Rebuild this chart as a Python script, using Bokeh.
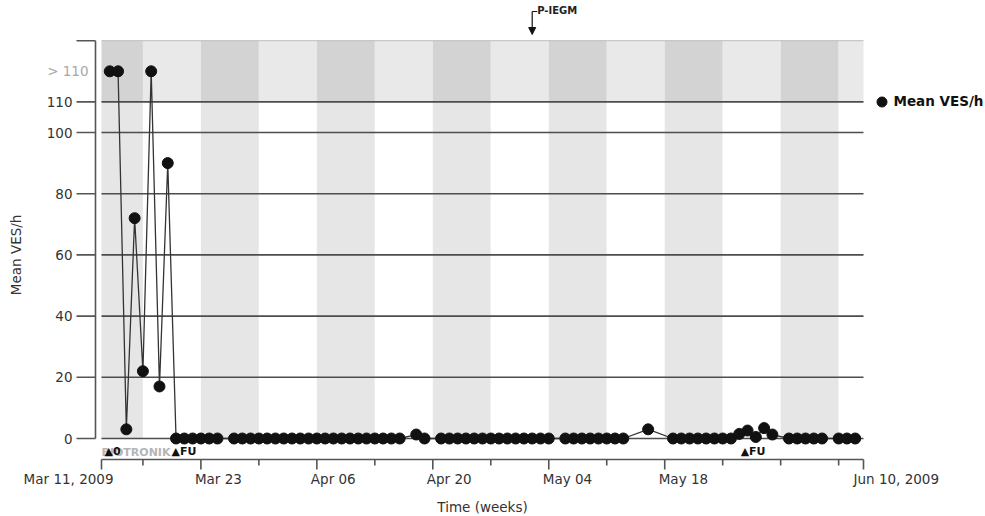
import pandas as pd
from math import pi
from bokeh.plotting import figure
from bokeh.models import (Range1d, Legend, LegendItem, ColumnDataSource, Arrow, NormalHead)
from bokeh.core.properties import value
from bokeh.embed import file_html
from bokeh.resources import INLINE

# ---------------- data ----------------
dates = [
    "2009-03-12", "2009-03-13", "2009-03-14", "2009-03-15", "2009-03-16", "2009-03-17", "2009-03-18", "2009-03-19",
    "2009-03-20", "2009-03-21", "2009-03-22", "2009-03-23", "2009-03-24", "2009-03-25",
    "2009-03-27", "2009-03-28", "2009-03-29", "2009-03-30", "2009-03-31", "2009-04-01", "2009-04-02",
    "2009-04-03", "2009-04-04", "2009-04-05", "2009-04-06", "2009-04-07", "2009-04-08", "2009-04-09",
    "2009-04-10", "2009-04-11", "2009-04-12", "2009-04-13", "2009-04-14", "2009-04-15", "2009-04-16",
    "2009-04-18", "2009-04-19",
    "2009-04-21", "2009-04-22", "2009-04-23", "2009-04-24", "2009-04-25", "2009-04-26", "2009-04-27",
    "2009-04-28", "2009-04-29", "2009-04-30", "2009-05-01", "2009-05-02", "2009-05-03", "2009-05-04",
    "2009-05-06", "2009-05-07", "2009-05-08", "2009-05-09", "2009-05-10", "2009-05-11", "2009-05-12", "2009-05-13",
    "2009-05-16",
    "2009-05-19", "2009-05-20", "2009-05-21", "2009-05-22", "2009-05-23", "2009-05-24", "2009-05-25", "2009-05-26",
    "2009-05-27", "2009-05-28", "2009-05-29", "2009-05-30", "2009-05-31",
    "2009-06-02", "2009-06-03", "2009-06-04", "2009-06-05", "2009-06-06",
    "2009-06-08", "2009-06-09", "2009-06-10",
]
# values above 110 are drawn in the "> 110" band (plotted at 120)
mean_ves = [
    120, 120, 3, 72, 22, 120, 17, 90,
    0, 0, 0, 0, 0, 0,
    0, 0, 0, 0, 0, 0, 0,
    0, 0, 0, 0, 0, 0, 0,
    0, 0, 0, 0, 0, 0, 0,
    1.3, 0,
    0, 0, 0, 0, 0, 0, 0,
    0, 0, 0, 0, 0, 0, 0,
    0, 0, 0, 0, 0, 0, 0, 0,
    3,
    0, 0, 0, 0, 0, 0, 0, 0,
    1.5, 2.6, 0.5, 3.4, 1.3,
    0, 0, 0, 0, 0,
    0, 0, 0,
]

week_starts = ["2009-03-11", "2009-03-16", "2009-03-23", "2009-03-30", "2009-04-06", "2009-04-13",
               "2009-04-20", "2009-04-27", "2009-05-04", "2009-05-11", "2009-05-18", "2009-05-25",
               "2009-06-01", "2009-06-08", "2009-06-11"]
week_shaded = [True, False, True, False, True, False, True, False, True, False, True, False, True, False]

grid_levels = [0, 20, 40, 60, 80, 100, 110]
y_tick_levels = [0, 20, 40, 60, 80, 100, 110, 130]
y_tick_labels = ["0", "20", "40", "60", "80", "100", "110", ""]
capped_level = 120
capped_label = "> 110"
band_top = 130

x_tick_dates = ["2009-03-11", "2009-03-23", "2009-04-06", "2009-04-20", "2009-05-04", "2009-05-18", "2009-06-11"]
x_tick_labels = ["Mar 11, 2009", "Mar 23", "Apr 06", "Apr 20", "May 04", "May 18", "Jun 10, 2009"]
x_minor_dates = ["2009-03-16", "2009-03-30", "2009-04-13", "2009-04-27", "2009-05-11", "2009-05-25",
                 "2009-06-01", "2009-06-08"]
x_title = "Time (weeks)"
x_title_date = "2009-04-26"

event_dates = ["2009-03-11 09:00", "2009-03-19 11:00", "2009-05-27 04:00"]
event_labels = ["\u25B20", "\u25B2FU", "\u25B2FU"]
watermark = "BIOTRONIK"
piegm_date = "2009-05-02"
piegm_label = "P-IEGM"
series_name = "Mean VES/h"


def ms(s):
    return pd.Timestamp(s).value / 1e6


# ---------------- scales ----------------
W, H = 983, 514
DAY = 86400000.0
px_per_day = 762.0 / 92.0          # Mar 11 -> Jun 11 spans 762 px
MSPX = DAY / px_per_day            # ms per pixel
UPX = 1 / 3.06                     # value units per pixel
X0 = ms(x_tick_dates[0])           # axis origin (left end of the x axis)
ORIGIN_PX_X, ORIGIN_PX_Y = 101, 438

x_lo = X0 - ORIGIN_PX_X * MSPX
x_hi = x_lo + W * MSPX
y_hi = ORIGIN_PX_Y * UPX
y_lo = -(H - ORIGIN_PX_Y) * UPX

FONT = "DejaVu Sans"
AX = "#555555"
TXT = "#333333"

p = figure(width=W, height=H, x_range=Range1d(x_lo, x_hi), y_range=Range1d(y_lo, y_hi),
           x_axis_location=None, y_axis_location=None,
           output_backend="svg", toolbar_location=None, title=None,
           min_border_left=0, min_border_right=0, min_border_top=0, min_border_bottom=0)
p.outline_line_color = None
p.xgrid.visible = False
p.ygrid.visible = False
p.background_fill_color = "white"
p.border_fill_color = "white"

# weekly bands
lefts = [ms(d) for d in week_starts[:-1]]
rights = [ms(d) for d in week_starts[1:]]
low_col = ["#e6e6e6" if s else "#ffffff" for s in week_shaded]
up_col = ["#d3d3d3" if s else "#e9e9e9" for s in week_shaded]
p.quad(left=lefts, right=rights, bottom=0, top=grid_levels[-1], fill_color=low_col, line_color=None)
p.quad(left=lefts, right=rights, bottom=grid_levels[-1], top=band_top, fill_color=up_col, line_color=None)

# horizontal grid lines
x_end = ms(week_starts[-1])
p.segment(x0=[X0] * len(grid_levels), y0=grid_levels, x1=[x_end] * len(grid_levels), y1=grid_levels,
          line_color="#4d4d4d", line_width=1.6)
p.segment(x0=[X0], y0=[band_top], x1=[x_end], y1=[band_top], line_color="#bdbdbd", line_width=1)

# ---------------- y axis ----------------
spine_x = X0 - 6 * MSPX
p.segment(x0=[spine_x], y0=[0], x1=[spine_x], y1=[band_top], line_color=AX, line_width=1.6)
p.segment(x0=[X0 - 25 * MSPX] * len(y_tick_levels), y0=y_tick_levels,
          x1=[spine_x] * len(y_tick_levels), y1=y_tick_levels, line_color=AX, line_width=1.6)
p.text(x=[X0 - 29 * MSPX] * len(y_tick_levels), y=y_tick_levels, text=y_tick_labels,
       text_align="right", text_baseline="middle", text_font=value(FONT),
       text_font_size="13.5px", text_color=TXT)
p.text(x=[X0 - 13 * MSPX], y=[capped_level], text=[capped_label],
       text_align="right", text_baseline="middle", text_font=value(FONT),
       text_font_size="13.5px", text_color="#a8a8a8")
p.text(x=[X0 - 86 * MSPX], y=[60], text=[series_name], angle=pi / 2,
       text_align="center", text_baseline="middle", text_font=value(FONT),
       text_font_size="13.5px", text_color=TXT)

# ---------------- x axis ----------------
axis_y = -21 * UPX
p.segment(x0=[X0], y0=[axis_y], x1=[x_end], y1=[axis_y], line_color=AX, line_width=1.6)
maj = [ms(d) for d in x_tick_dates]
mnr = [ms(d) for d in x_minor_dates]
p.segment(x0=maj, y0=[axis_y] * len(maj), x1=maj, y1=[axis_y - 10 * UPX] * len(maj), line_color=AX, line_width=1.6)
p.segment(x0=mnr, y0=[axis_y] * len(mnr), x1=mnr, y1=[axis_y - 6 * UPX] * len(mnr), line_color=AX, line_width=1.6)
n = len(x_tick_labels)
for i, (d, t) in enumerate(zip(maj, x_tick_labels)):
    if i == 0:
        align, off = "right", 12
    elif i == n - 1:
        align, off = "left", -10
    else:
        align, off = "left", -6
    p.text(x=[d + off * MSPX], y=[axis_y - 19 * UPX], text=[t], text_align=align, text_baseline="middle",
           text_font=value(FONT), text_font_size="13.5px", text_color=TXT)
p.text(x=[ms(x_title_date)], y=[axis_y - 47 * UPX], text=[x_title], text_align="center", text_baseline="middle",
       text_font=value(FONT), text_font_size="13.5px", text_color=TXT)

# ---------------- data ----------------
src = ColumnDataSource(dict(x=[ms(d) for d in dates], y=mean_ves))
p.line("x", "y", source=src, line_color="#333333", line_width=1.3)
pts = p.scatter("x", "y", source=src, size=11, marker="circle", fill_color="#111111", line_color="#111111")

# watermark and event markers
p.text(x=[X0], y=[-14 * UPX], text=[watermark], text_align="left", text_baseline="middle",
       text_font=value(FONT), text_font_size="11px", text_font_style="bold", text_color="#b5b5b5")
p.text(x=[ms(d) for d in event_dates], y=[-13 * UPX] * len(event_dates), text=event_labels,
       text_align="left", text_baseline="middle", text_font=value(FONT), text_font_size="11px",
       text_font_style="bold", text_color="#111111")

# P-IEGM marker
px_ = ms(piegm_date)
hook_y = y_hi - 11 * UPX
tip_y = y_hi - 34 * UPX
p.line([px_ + 5 * MSPX, px_], [hook_y, hook_y], line_color="#111111", line_width=1.2)
p.add_layout(Arrow(end=NormalHead(size=7, fill_color="#111111", line_color="#111111"),
                   x_start=px_, y_start=hook_y, x_end=px_, y_end=tip_y,
                   line_color="#111111", line_width=1.2))
p.text(x=[px_ + 5 * MSPX], y=[y_hi - 10 * UPX], text=[piegm_label], text_align="left", text_baseline="middle",
       text_font=value(FONT), text_font_size="10px", text_font_style="bold", text_color="#222222")

# legend
legend = Legend(items=[LegendItem(label=series_name, renderers=[pts])], location=(868.5, H - 113.5),
                border_line_color=None, background_fill_alpha=0, padding=0, margin=0, spacing=0,
                glyph_width=25, glyph_height=25, label_standoff=0,
                label_text_font=FONT, label_text_font_size="13.5px", label_text_font_style="bold",
                label_text_color="#111111")
p.add_layout(legend)

open("out.html", "w").write(file_html(p, INLINE))
